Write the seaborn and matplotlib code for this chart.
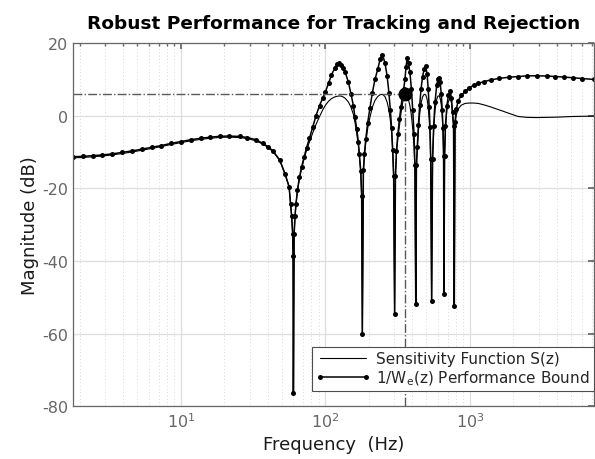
import matplotlib
matplotlib.use("Agg")
import matplotlib.pyplot as plt
import seaborn as sns
import pandas as pd
from matplotlib.ticker import FixedLocator, NullFormatter, LogLocator

# ---------------- data ----------------
freq_hz = [1.79, 2.09, 2.45, 2.86, 3.35, 3.92, 4.58, 5.36, 6.27, 7.33, 8.57, 10.0,
           11.7, 13.7, 16.0, 18.7, 21.4, 25.6, 28.8, 33.0, 36.8, 40.3, 43.6, 48.4,
           52.5, 56.0, 57.4, 58.3, 59.3, 59.7, 60.0, 60.7, 61.6, 62.5, 64.0, 66.0,
           68.5, 71.0, 74.0, 77.5, 81.5, 86.0, 91.0, 96.0, 100, 105, 110, 116,
           120, 124, 129, 133, 137, 144, 150, 156, 160, 164.5, 169, 171.6, 175.4,
           178, 180, 183, 186, 190, 196, 203.5, 211, 220, 230, 239, 248, 258, 267,
           275, 281, 287, 292, 296.5, 301, 305, 310, 317, 325, 333, 342, 348, 355,
           361, 368, 376, 384, 393, 402, 410, 416, 421.5, 426, 432, 440, 449, 459,
           470, 482, 494, 505, 514, 522, 529, 535, 543, 551, 561, 573, 589, 600,
           611, 622, 633, 643, 651, 657, 661, 667, 677, 692, 710, 731, 745, 758,
           770, 779, 788, 805, 830, 870, 925, 990, 1060, 1140, 1250, 1400, 1600,
           1850, 2150, 2500, 2900, 3400, 3900, 4500, 5200, 6000, 7210]

bound_db = [-11.3, -11.2, -11.0, -10.8, -10.5, -10.1, -9.7, -9.2, -8.7, -8.2, -7.6, -7.1,
            -6.6, -6.2, -5.9, -5.65, -5.6, -5.7, -6.0, -6.6, -7.6, -8.6, -9.8, -12.3,
            -16.0, -19.5, -24.3, -27.5, -32.5, -38.7, -76.5, -32.5, -27.5, -24.3, -20.5, -17.0,
            -14.0, -11.5, -8.8, -6.2, -3.2, 0.0, 2.8, 5.0, 6.6, 9.0, 11.2, 13.2,
            14.2, 14.6, 14.1, 13.2, 12.0, 9.3, 6.1, 2.8, -0.4, -3.6, -7.3, -10.5, -15.1,
            -22.0, -60.0, -15.0, -10.5, -6.5, -1.9, 2.2, 6.3, 10.0, 12.8, 15.6, 16.8, 14.6, 11.0,
            6.3, 1.7, -3.4, -9.4, -16.7, -54.7, -16.5, -9.6, -5.0, -1.0, 2.5, 5.5, 7.5, 10.0,
            13.5, 16.0, 14.5, 12.0, 7.5, 1.5, -5.0, -13.7, -52.0, -13.7, -8.5, -2.5, 3.0, 7.5,
            10.8, 12.9, 13.6, 11.5, 7.5, 2.5, -3.0, -11.9, -51.0, -11.9, -2.7, 3.8, 8.4, 10.0,
            10.3, 9.3, 6.0, 1.5, -3.5, -11.0, -49.2, -11.0, -2.7, 2.8, 5.6, 6.7, 4.8, 1.0,
            -2.7, -52.4, -1.8, 1.9, 4.2, 5.6, 6.7, 7.7, 8.4, 8.9, 9.4, 9.9, 10.3,
            10.6, 10.8, 11.0, 11.0, 10.95, 10.8, 10.65, 10.45, 10.25, 10.0]

sens_db = [-11.6, -11.5, -11.3, -11.1, -10.8, -10.4, -10.0, -9.5, -9.0, -8.5, -7.9, -7.4,
           -6.9, -6.5, -6.2, -5.95, -5.9, -6.0, -6.3, -6.9, -7.8, -8.8, -10.0, -12.4,
           -16.1, -19.6, -24.4, -27.6, -32.6, -38.8, -76.5, -32.6, -27.7, -24.5, -20.8, -17.4,
           -14.5, -12.0, -9.5, -7.2, -4.8, -2.4, -0.2, 1.7, 2.9, 4.0, 4.7, 5.2,
           5.35, 5.45, 5.4, 5.15, 4.8, 3.8, 2.4, 0.4, -1.8, -4.8, -8.3, -11.2, -15.5,
           -22.0, -60.0, -15.5, -11.2, -7.5, -3.5, -0.3, 2.3, 4.2, 5.3, 5.8, 5.9, 5.3, 3.8,
           1.5, -1.2, -4.8, -10.0, -17.0, -54.7, -17.0, -10.5, -6.3, -2.8, 0.6, 3.6, 5.0, 6.0,
           5.9, 5.3, 4.3, 2.8, 0.2, -3.8, -8.5, -15.0, -52.0, -14.5, -9.5, -4.0, 0.5, 3.5,
           5.2, 5.9, 5.8, 4.6, 2.3, -1.0, -5.0, -12.5, -51.0, -12.5, -4.0, 1.5, 4.6, 5.4,
           5.5, 4.8, 3.0, -0.2, -4.5, -11.5, -49.2, -11.5, -3.5, 1.5, 4.0, 4.7, 3.5, 0.3,
           -3.0, -52.4, -2.2, 0.3, 1.9, 2.9, 3.4, 3.5, 3.5, 3.4, 3.0, 2.4, 1.6,
           0.7, -0.2, -0.45, -0.5, -0.45, -0.4, -0.3, -0.2, -0.15, -0.1]

peak_freq = 355.0      # frequency of max |S|
peak_db = 6.1          # max |S| in dB
y_ticks = [-80, -60, -40, -20, 0, 20]
x_ticks = [10, 100, 1000]
x_tick_labels = [r"$10^{1}$", r"$10^{2}$", r"$10^{3}$"]

label_s = "Sensitivity Function S(z)"
label_w = r"1/W$_{\mathregular{e}}$(z) Performance Bound"

df = pd.DataFrame({"freq": freq_hz, "bound": bound_db, "sens": sens_db})

# ---------------- figure ----------------
sns.set_theme(style="white")
plt.rcParams["font.family"] = ["DejaVu Sans"]
plt.rcParams["mathtext.default"] = "regular"

fig = plt.figure(figsize=(5.95, 4.6), dpi=100)
ax = fig.add_axes([0.1227, 0.115, 0.8755, 0.789])

sns.lineplot(data=df, x="freq", y="sens", ax=ax, color="black", linewidth=0.8,
             estimator=None, sort=False, label=label_s)
sns.lineplot(data=df, x="freq", y="bound", ax=ax, color="black", linewidth=1.1,
             marker="o", markersize=3.6, markeredgewidth=0, estimator=None,
             sort=False, label=label_w)

ax.set_xscale("log")
ax.set_xlim(freq_hz[0], freq_hz[-1])
ax.set_ylim(y_ticks[0], y_ticks[-1])

# reference lines at max |S|
ax.plot([freq_hz[0], peak_freq], [peak_db, peak_db], ls="-.", color="0.35", lw=1.0)
ax.plot([peak_freq, peak_freq], [y_ticks[0], peak_db], ls="-.", color="0.35", lw=1.0)
ax.plot([peak_freq], [peak_db], marker="o", markersize=9, color="black", ls="none")

ax.xaxis.set_major_locator(FixedLocator(x_ticks))
ax.set_xticklabels(x_tick_labels)
ax.xaxis.set_minor_locator(LogLocator(base=10, subs=[2, 3, 4, 5, 6, 7, 8, 9], numticks=20))
ax.xaxis.set_minor_formatter(NullFormatter())
ax.set_yticks(y_ticks)
ax.set_yticklabels([str(v) for v in y_ticks])

ax.grid(which="major", color="0.87", lw=0.9, ls="-")
ax.grid(which="minor", axis="x", color="0.8", lw=0.6, ls=(0, (1, 3)))
ax.set_axisbelow(True)

for sp in ax.spines.values():
    sp.set_color("0.4")
    sp.set_linewidth(0.9)
ax.tick_params(which="both", direction="in", top=True, right=True,
               colors="0.4", labelcolor="0.4", labelsize=11.5)
ax.tick_params(which="major", length=4)
ax.tick_params(which="minor", length=2.5)

ax.set_xlabel("Frequency  (Hz)", fontsize=13, color="0.1", labelpad=4)
ax.set_ylabel("Magnitude (dB)", fontsize=13, color="0.1", labelpad=2)
ax.set_title("Robust Performance for Tracking and Rejection", fontsize=13.3,
             fontweight="bold", color="black", pad=11)

leg = ax.legend(loc="lower right", bbox_to_anchor=(1.0, 0.041), borderaxespad=0,
                fancybox=False, framealpha=1, edgecolor="0.3", fontsize=11,
                numpoints=2, handlelength=3.6, borderpad=0.25, labelspacing=0.2,
                handletextpad=0.4)
leg.get_frame().set_linewidth(0.8)

fig.savefig("out.png", dpi=100)
